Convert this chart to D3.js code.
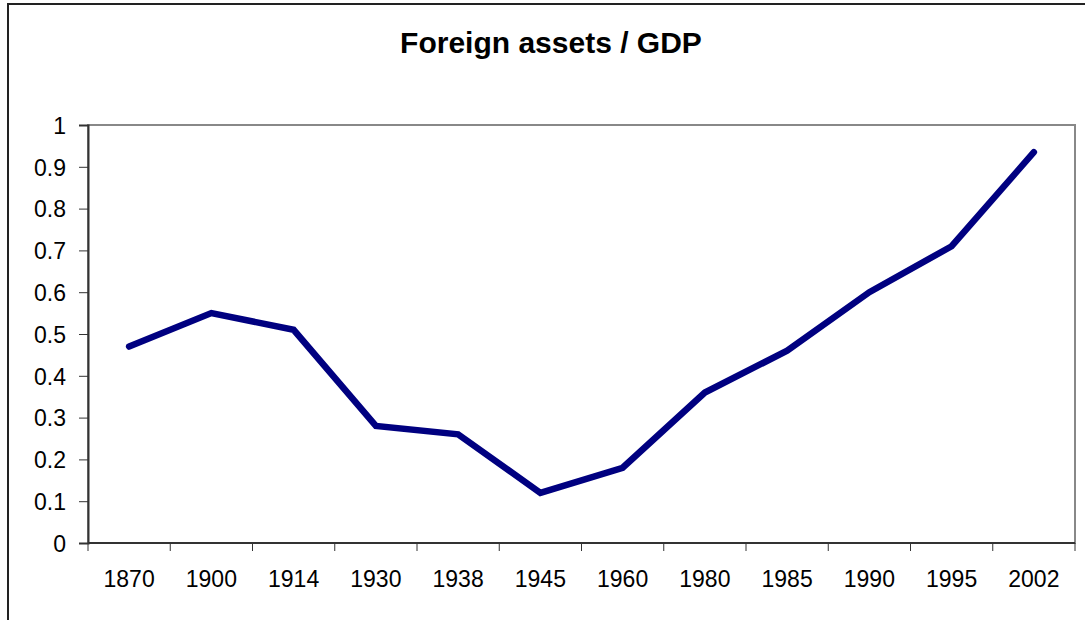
<!DOCTYPE html>
<html>
<head>
<meta charset="utf-8">
<script src="https://cdn.jsdelivr.net/npm/d3@7"></script>
<style>
  body { margin: 0; background: #fff; }
  text { font-family: "Liberation Sans", Arial, sans-serif; fill: #000; }
</style>
</head>
<body>
<script>
// chart data
var years = ["1870", "1900", "1914", "1930", "1938", "1945", "1960", "1980", "1985", "1990", "1995", "2002"];
var ratio = [0.47, 0.55, 0.51, 0.28, 0.26, 0.12, 0.18, 0.36, 0.46, 0.60, 0.71, 0.935];
var yTicks = [0, 0.1, 0.2, 0.3, 0.4, 0.5, 0.6, 0.7, 0.8, 0.9, 1];
var title = "Foreign assets / GDP";

var w = 1085, h = 620;
// plot area edges (note: "top" clashes with window.top)
var plotL = 88, plotR = 1075, plotT = 125, plotB = 543;

var svg = d3.select("body").append("svg")
    .attr("width", w)
    .attr("height", h);

// outer chart frame (runs off right / bottom edges)
svg.append("rect")
    .attr("x", 8).attr("y", 4)
    .attr("width", w).attr("height", h)
    .style("fill", "none")
    .style("stroke", "#222")
    .style("stroke-width", 2);

var x = d3.scaleBand()
    .domain(years)
    .range([plotL, plotR]);

var y = d3.scaleLinear()
    .domain([0, 1])
    .range([plotB, plotT]);

// plot area border (gray)
svg.append("rect")
    .attr("x", plotL).attr("y", plotT)
    .attr("width", plotR - plotL).attr("height", plotB - plotT)
    .style("fill", "none")
    .style("stroke", "#888")
    .style("stroke-width", 2);

// Y axis
var yAxis = d3.axisLeft(y)
    .tickValues(yTicks)
    .tickSize(9)
    .tickPadding(13)
    .tickFormat(d => d === 0 || d === 1 ? d3.format("d")(d) : d3.format(".1f")(d));

var gy = svg.append("g")
    .attr("transform", "translate(" + plotL + ",0)")
    .call(yAxis);
gy.select(".domain").style("stroke", "#333").style("stroke-width", 2);
gy.selectAll(".tick line").style("stroke", "#333");
gy.selectAll(".tick text")
    .style("font-family", "'Liberation Sans', Arial, sans-serif")
    .attr("font-size", "23px").attr("dy", "0.36em");

// X axis - ticks between categories
var gx = svg.append("g")
    .attr("transform", "translate(0," + plotB + ")");
gx.append("line")
    .attr("x1", plotL).attr("x2", plotR)
    .style("stroke", "#333").style("stroke-width", 2);

var edges = years.map(d => x(d)).concat([x.range()[1]]);
gx.selectAll(".xtick")
    .data(edges)
    .enter().append("line")
    .attr("class", "xtick")
    .attr("x1", d => d).attr("x2", d => d)
    .attr("y1", 0).attr("y2", 8)
    .style("stroke", "#333");

gx.selectAll(".xlabel")
    .data(years)
    .enter().append("text")
    .attr("class", "xlabel")
    .attr("x", d => x(d) + x.bandwidth() / 2)
    .attr("y", 44)
    .attr("text-anchor", "middle")
    .attr("font-size", "23px")
    .text(d => d);

// Line
var line = d3.line()
    .x((d, i) => x(years[i]) + x.bandwidth() / 2)
    .y(d => y(d));

svg.append("path")
    .datum(ratio)
    .attr("d", line)
    .style("fill", "none")
    .style("stroke", "#000080")
    .style("stroke-width", 6.5)
    .style("stroke-linejoin", "miter")
    .style("stroke-linecap", "round");

// Title
svg.append("text")
    .attr("x", 551)
    .attr("y", 53)
    .attr("text-anchor", "middle")
    .attr("font-size", "30px")
    .attr("font-weight", "bold")
    .text(title);
</script>
</body>
</html>
